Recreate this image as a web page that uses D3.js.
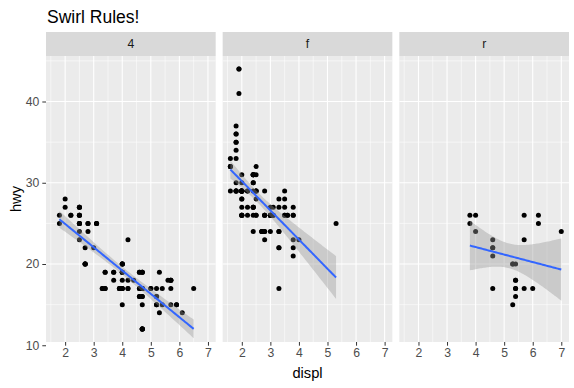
<!DOCTYPE html>
<html>
<head>
<meta charset="utf-8">
<script src="https://cdn.jsdelivr.net/npm/d3@7"></script>
<style>
  body { margin: 0; background: #fff; }
  svg { font-family: "Liberation Sans", Arial, sans-serif; }
</style>
</head>
<body>
<div id="chart"></div>
<script>
// facet labels (drv)
var facets = ["4", "f", "r"];

// displ / hwy pairs per drive train
var displ4 = [1.8,1.8,2.0,2.0,2.8,2.8,3.1,3.1, 2.8,3.1,4.2, 5.3,5.3,5.7,6.5,
  3.7,3.7,3.9,3.9,4.7,4.7,4.7,5.2,5.2, 3.9,4.7,4.7,4.7,5.2,5.7,5.9,
  4.7,4.7,4.7,4.7,4.7,4.7,5.2,5.2,5.7,5.9, 4.0,4.0,4.0,4.0,4.6,5.0,
  4.2,4.2,4.6,4.6,4.6,5.4,5.4, 3.0,3.7,4.0,4.7,4.7,4.7,5.7,6.1,
  4.0,4.2,4.4,4.6, 4.0,4.0,4.6,5.0, 3.3,3.3,4.0,5.6,
  2.5,2.5,2.5,2.5,2.5,2.5, 2.2,2.2,2.5,2.5,2.5,2.5,2.5,2.5,
  2.7,2.7,3.4,3.4,4.0,4.7, 4.7,5.7, 2.7,2.7,2.7,3.4,3.4,4.0,4.0];
var hwy4 = [26,25,28,27,25,25,25,25, 24,25,23, 19,14,15,17,
  19,18,17,17,19,19,12,17,15, 17,17,12,17,16,18,15,
  16,12,17,17,16,12,15,16,17,15, 17,19,17,19,19,17,
  17,17,16,16,17,15,17, 22,19,20,17,12,19,18,14,
  15,18,18,17, 17,19,19,17, 17,17,20,18,
  25,24,27,25,26,23, 26,26,26,26,25,27,25,27,
  20,20,19,17,20,17, 15,18, 20,20,22,17,19,18,20];

var displF = [1.8,1.8,2.0,2.0,2.8,2.8,3.1, 2.4,2.4,3.1,3.5,3.6,
  2.4,3.0,3.3,3.3,3.3,3.3,3.3,3.8,3.8,3.8,4.0,
  1.6,1.6,1.6,1.6,1.6,1.8,1.8,1.8,2.0, 2.4,2.4,2.4,2.4,2.5,2.5,3.3,
  2.0,2.0,2.0,2.0,2.7,2.7,2.7, 2.4,2.4,2.5,2.5,3.5,3.5, 3.0,3.0,3.5,
  3.1,3.8,3.8,3.8,5.3, 2.2,2.2,2.4,2.4,3.0,3.0,3.5, 2.2,2.2,2.4,2.4,3.0,3.0,3.3,
  1.8,1.8,1.8,1.8,1.8, 2.0,2.0,2.0,2.0,2.8, 1.9,2.0,2.0,2.0,2.0,2.5,2.5,2.8,2.8,
  1.9,1.9,2.0,2.0,2.5,2.5, 1.8,1.8,2.0,2.0,2.8,2.8,3.6];
var hwyF = [29,29,31,30,26,26,27, 27,30,26,29,26,
  24,24,22,22,24,24,17,22,21,23,23,
  33,32,32,29,32,34,36,36,29, 26,27,30,31,26,26,28,
  26,29,28,27,24,24,24, 29,27,31,32,27,26, 26,26,26,
  26,27,26,26,25, 26,29,31,31,26,26,28, 27,29,31,31,26,27,27,
  30,33,35,37,35, 29,26,29,29,24, 44,29,26,29,29,29,29,23,24,
  44,41,29,26,28,29, 29,29,29,28,29,26,26];

var displR = [5.3,5.3,5.3,5.7,6.0, 5.7,5.7,6.2,6.2,7.0, 4.6,5.4,5.4,
  3.8,3.8,4.0,4.0,4.6,4.6,4.6,4.6,5.4, 5.4,5.4,5.4];
var hwyR = [20,15,20,17,17, 26,23,26,25,24, 17,17,18,
  26,25,26,24,21,22,23,22,20, 17,16,18];

var xTicks = [2, 3, 4, 5, 6, 7];
var yTicks = [10, 20, 30, 40];

var groups = [
  {name: facets[0], x: displ4, y: hwy4},
  {name: facets[1], x: displF, y: hwyF},
  {name: facets[2], x: displR, y: hwyR}
];

var W = 574, H = 388;
var pLeft = 46, pRight = 569, pTop = 56, pBottom = 342, gap = 7, stripH = 24;
var pw = (pRight - pLeft - gap * 2) / 3;

var allX = displ4.concat(displF, displR), allY = hwy4.concat(hwyF, hwyR);
var ex = d3.extent(allX), ey = d3.extent(allY);
var padX = (ex[1] - ex[0]) * 0.05, padY = (ey[1] - ey[0]) * 0.05;

var x = d3.scaleLinear().domain([ex[0] - padX, ex[1] + padX]).range([0, pw]);
var y = d3.scaleLinear().domain([ey[0] - padY, ey[1] + padY]).range([pBottom, pTop]);

// t quantile (0.975) via Cornish-Fisher expansion
function tq(df) {
  var z = 1.959964;
  var g1 = (Math.pow(z,3) + z) / 4;
  var g2 = (5*Math.pow(z,5) + 16*Math.pow(z,3) + 3*z) / 96;
  var g3 = (3*Math.pow(z,7) + 19*Math.pow(z,5) + 17*Math.pow(z,3) - 15*z) / 384;
  return z + g1/df + g2/(df*df) + g3/(df*df*df);
}

// linear model with 95% confidence band, like geom_smooth(method = "lm")
function lmFit(xs, ys) {
  var n = xs.length;
  var mx = d3.mean(xs), my = d3.mean(ys);
  var sxx = 0, sxy = 0;
  for (var i = 0; i < n; i++) {
    sxx += (xs[i] - mx) * (xs[i] - mx);
    sxy += (xs[i] - mx) * (ys[i] - my);
  }
  var b = sxy / sxx, a = my - b * mx;
  var rss = 0;
  for (var i = 0; i < n; i++) rss += Math.pow(ys[i] - a - b * xs[i], 2);
  var s = Math.sqrt(rss / (n - 2));
  var t = tq(n - 2);
  var lo = d3.min(xs), hi = d3.max(xs);
  var out = [];
  for (var k = 0; k < 80; k++) {
    var xv = lo + (hi - lo) * k / 79;
    var fit = a + b * xv;
    var se = s * Math.sqrt(1 / n + Math.pow(xv - mx, 2) / sxx);
    out.push({x: xv, fit: fit, lo: fit - t * se, hi: fit + t * se});
  }
  return out;
}

var svg = d3.select("#chart").append("svg").attr("width", W).attr("height", H);

svg.append("text").attr("x", 47).attr("y", 22.5)
  .attr("font-size", 17.5).attr("fill", "#000").text("Swirl Rules!");

var minorX = [1.5, 2.5, 3.5, 4.5, 5.5, 6.5];
var minorY = [15, 25, 35, 45];

groups.forEach(function(g, i) {
  var px = pLeft + i * (pw + gap);
  var p = svg.append("g").attr("transform", "translate(" + px + ",0)");

  // strip
  p.append("rect").attr("x", 0).attr("y", pTop - stripH).attr("width", pw).attr("height", stripH).attr("fill", "#D9D9D9");
  p.append("text").attr("x", pw / 2).attr("y", pTop - stripH / 2 + 4.4)
    .attr("text-anchor", "middle").attr("font-size", 12.2).attr("fill", "#1A1A1A").text(g.name);

  // panel
  p.append("rect").attr("x", 0).attr("y", pTop).attr("width", pw).attr("height", pBottom - pTop).attr("fill", "#EBEBEB");
  p.selectAll(".minx").data(minorX).join("line")
    .attr("x1", d => x(d)).attr("x2", d => x(d)).attr("y1", pTop).attr("y2", pBottom)
    .attr("stroke", "#fff").attr("stroke-width", 0.55);
  p.selectAll(".miny").data(minorY).join("line")
    .attr("x1", 0).attr("x2", pw).attr("y1", d => y(d)).attr("y2", d => y(d))
    .attr("stroke", "#fff").attr("stroke-width", 0.55);
  p.selectAll(".majx").data(xTicks).join("line")
    .attr("x1", d => x(d)).attr("x2", d => x(d)).attr("y1", pTop).attr("y2", pBottom)
    .attr("stroke", "#fff").attr("stroke-width", 1.1);
  p.selectAll(".majy").data(yTicks).join("line")
    .attr("x1", 0).attr("x2", pw).attr("y1", d => y(d)).attr("y2", d => y(d))
    .attr("stroke", "#fff").attr("stroke-width", 1.1);

  // points
  var pts = g.x.map((d, j) => ({x: d, y: g.y[j]}));
  p.selectAll(".dot").data(pts).join("circle")
    .attr("cx", d => x(d.x)).attr("cy", d => y(d.y)).attr("r", 2.5).attr("fill", "#000");

  // smooth
  var fit = lmFit(g.x, g.y);
  p.append("path").datum(fit)
    .attr("d", d3.area().x(d => x(d.x)).y0(d => y(d.lo)).y1(d => y(d.hi)))
    .attr("fill", "#999999").attr("fill-opacity", 0.4);
  p.append("path").datum(fit)
    .attr("d", d3.line().x(d => x(d.x)).y(d => y(d.fit)))
    .attr("fill", "none").attr("stroke", "#3366FF").attr("stroke-width", 2);

  // x axis
  var ax = p.append("g").attr("transform", "translate(0," + pBottom + ")")
    .call(d3.axisBottom(x).tickValues(xTicks).tickSize(3.7).tickPadding(3).tickFormat(d3.format("d")));
  ax.attr("font-size", 12.2).attr("font-family", "Liberation Sans, Arial, sans-serif");
  ax.select(".domain").remove();
  ax.selectAll("line").attr("stroke", "#333333").attr("stroke-width", 1);
  ax.selectAll("text").attr("fill", "#4D4D4D");
});

// y axis
var ay = svg.append("g").attr("transform", "translate(" + pLeft + ",0)")
  .call(d3.axisLeft(y).tickValues(yTicks).tickSize(3.7).tickPadding(3));
ay.attr("font-size", 12.2).attr("font-family", "Liberation Sans, Arial, sans-serif");
ay.select(".domain").remove();
ay.selectAll("line").attr("stroke", "#333333").attr("stroke-width", 1);
ay.selectAll("text").attr("fill", "#4D4D4D");

svg.append("text").attr("x", (pLeft + pRight) / 2).attr("y", 378)
  .attr("text-anchor", "middle").attr("font-size", 14.7).attr("fill", "#000").text("displ");
svg.append("text").attr("transform", "translate(21," + ((pTop + pBottom) / 2) + ") rotate(-90)")
  .attr("text-anchor", "middle").attr("font-size", 14.7).attr("fill", "#000").text("hwy");
</script>
</body>
</html>
